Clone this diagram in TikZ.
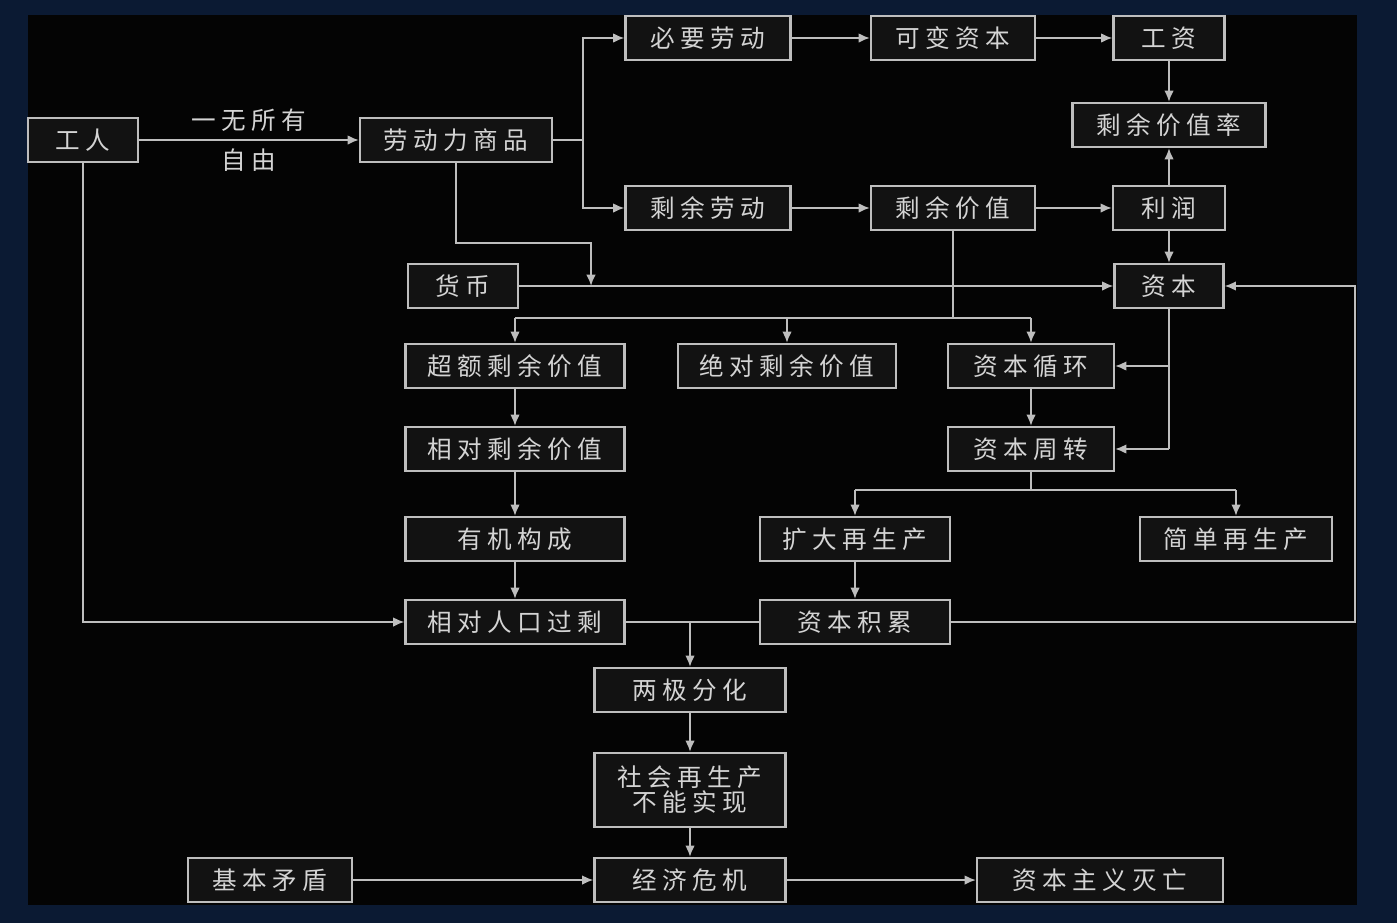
\documentclass[tikz,border=0pt]{standalone}
\usepackage{fontspec}
\newfontfamily\cjk[LetterSpace=22]{Noto Sans CJK SC}
\usetikzlibrary{arrows.meta}

\definecolor{navy}{HTML}{0B1A33}
\definecolor{inner}{HTML}{040404}
\definecolor{boxfill}{HTML}{121212}
\definecolor{boxline}{HTML}{BEBEBE}
\definecolor{txt}{HTML}{D4D4D4}

\tikzset{
  box/.style={draw=boxline,fill=boxfill,text=txt,line width=1.2pt,
    minimum height=0.88cm,inner sep=0pt,align=center,
    font=\cjk\fontsize{14}{12}\selectfont},
  link/.style={draw=boxline,line width=1.1pt,-{Latex[length=6.5pt,width=5.5pt]}},
  plain/.style={draw=boxline,line width=1.1pt},
  tag/.style={text=txt,font=\cjk\fontsize{14}{15}\selectfont},
}

\begin{document}
\begin{tikzpicture}[x=0.02cm,y=-0.02cm]

  % backdrop
  \fill[navy] (0,0) rectangle (1397,923);
  \fill[inner] (28,15) rectangle (1357,905);

  % boxes
  \node[box,minimum width=2.2cm]  (worker) at (83,140)   {工人};
  \node[box,minimum width=3.84cm] (lp)     at (456,140)  {劳动力商品};
  \node[box,minimum width=3.3cm]  (need)   at (708,38)   {必要劳动};
  \node[box,minimum width=3.28cm] (var)    at (953,38)   {可变资本};
  \node[box,minimum width=2.22cm] (wage)   at (1169,38)  {工资};
  \node[box,minimum width=3.86cm] (rate)   at (1169,125) {剩余价值率};
  \node[box,minimum width=3.3cm]  (surl)   at (708,208)  {剩余劳动};
  \node[box,minimum width=3.28cm] (surv)   at (953,208)  {剩余价值};
  \node[box,minimum width=2.24cm] (profit) at (1169,208) {利润};
  \node[box,minimum width=2.2cm]  (money)  at (463,286)  {货币};
  \node[box,minimum width=2.18cm] (cap)    at (1169,286) {资本};
  \node[box,minimum width=4.38cm] (excess) at (515,366)  {超额剩余价值};
  \node[box,minimum width=4.36cm] (abs)    at (787,366)  {绝对剩余价值};
  \node[box,minimum width=3.32cm] (circ)   at (1031,366) {资本循环};
  \node[box,minimum width=4.38cm] (rel)    at (515,449)  {相对剩余价值};
  \node[box,minimum width=3.32cm] (turn)   at (1031,449) {资本周转};
  \node[box,minimum width=4.38cm] (org)    at (515,539)  {有机构成};
  \node[box,minimum width=3.8cm]  (expand) at (855,539)  {扩大再生产};
  \node[box,minimum width=3.84cm] (simple) at (1236,539) {简单再生产};
  \node[box,minimum width=4.38cm] (pop)    at (515,622)  {相对人口过剩};
  \node[box,minimum width=3.8cm]  (accum)  at (855,622)  {资本积累};
  \node[box,minimum width=3.82cm] (polar)  at (690,690)  {两极分化};
  \node[box,minimum width=3.82cm,minimum height=1.48cm] (social) at (690,790) {社会再生产\\不能实现};
  \node[box,minimum width=3.28cm] (basic)  at (270,880)  {基本矛盾};
  \node[box,minimum width=3.82cm] (crisis) at (690,880)  {经济危机};
  \node[box,minimum width=4.92cm] (fall)   at (1100,880) {资本主义灭亡};

  % junctions
  \coordinate (lpsplit) at (583,140);
  \coordinate (lpbend)  at (591,243);
  \coordinate (lpdrop)  at (591,286);
  \coordinate (svbus)   at (0,318);
  \coordinate (tnbus)   at (0,490);
  \coordinate (rloop)   at (1355,286);

  % top rows
  \draw[link] (worker) -- (lp)
    node[tag,midway,above=1pt] {一无所有}
    node[tag,midway,below=1pt] {自由};
  \draw[plain] (lp) -- (lpsplit);
  \draw[link] (lpsplit) |- (need);
  \draw[link] (lpsplit) |- (surl);
  \draw[link] (need) -- (var);
  \draw[link] (var) -- (wage);
  \draw[link] (wage) -- (rate);
  \draw[link] (surl) -- (surv);
  \draw[link] (surv) -- (profit);
  \draw[link] (profit) -- (rate);
  \draw[link] (profit) -- (cap);
  \draw[link] (lp) |- (lpbend) -- (lpdrop);
  \draw[link] (money) -- (cap);

  % surplus value bus
  \draw[plain] (surv) -- (surv |- svbus);
  \draw[plain] (excess |- svbus) -- (circ |- svbus);
  \draw[link] (excess |- svbus) -- (excess);
  \draw[link] (abs |- svbus) -- (abs);
  \draw[link] (circ |- svbus) -- (circ);

  % capital loop
  \draw[plain] (cap) -- (cap |- turn);
  \draw[link] (cap |- circ) -- (circ);
  \draw[link] (cap |- turn) -- (turn);
  \draw[link] (circ) -- (turn);
  \draw[plain] (turn) -- (turn |- tnbus);
  \draw[plain] (expand |- tnbus) -- (simple |- tnbus);
  \draw[link] (expand |- tnbus) -- (expand);
  \draw[link] (simple |- tnbus) -- (simple);
  \draw[link] (expand) -- (accum);
  \draw[link] (accum) -| (rloop) -- (cap);

  % left column
  \draw[link] (excess) -- (rel);
  \draw[link] (rel) -- (org);
  \draw[link] (org) -- (pop);
  \draw[link] (worker) |- (pop);

  % bottom
  \draw[plain] (pop) -- (accum);
  \draw[link] (polar |- pop) -- (polar);
  \draw[link] (polar) -- (social);
  \draw[link] (social) -- (crisis);
  \draw[link] (basic) -- (crisis);
  \draw[link] (crisis) -- (fall);

\end{tikzpicture}
\end{document}
